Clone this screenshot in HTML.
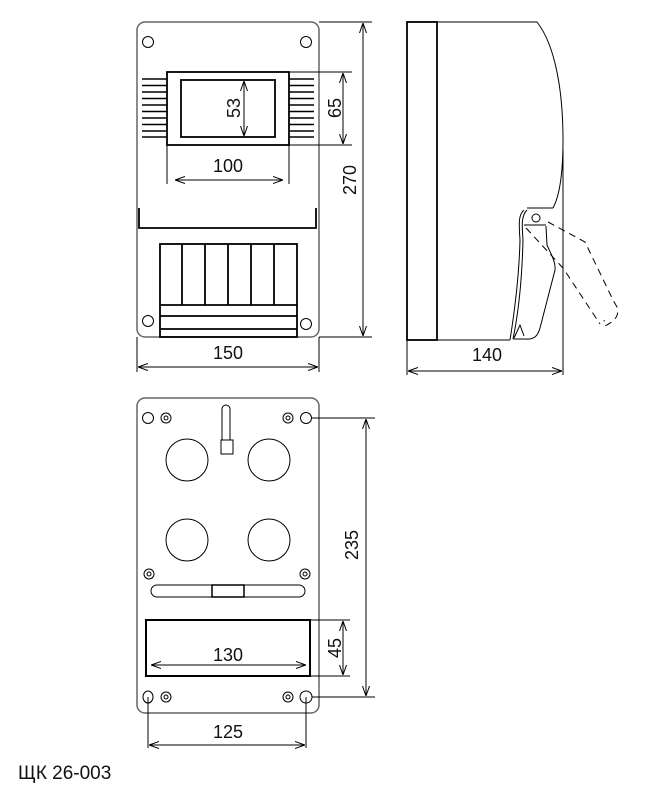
<!DOCTYPE html>
<html><head><meta charset="utf-8"><style>
html,body{margin:0;padding:0;background:#fff;}
svg{display:block;}
text{font-family:"Liberation Sans","DejaVu Sans",sans-serif;font-size:18px;fill:#111;}
</style></head><body>
<svg width="666" height="787" viewBox="0 0 666 787" xmlns="http://www.w3.org/2000/svg">
<defs>
<marker id="a" markerWidth="10" markerHeight="8" refX="10" refY="4" orient="auto-start-reverse" markerUnits="userSpaceOnUse">
<path d="M0,0.5 L10,4 L0,7.5" fill="none" stroke="#000" stroke-width="1"/>
</marker>
</defs>
<g fill="none" stroke="#000" stroke-width="1">
<!-- FRONT VIEW -->
<rect x="137" y="22" width="182" height="315" rx="8" stroke="#666" stroke-width="1.5"/>
<circle cx="148" cy="42" r="5.5"/><circle cx="306" cy="42" r="5.5"/>
<circle cx="148" cy="321" r="5.5"/><circle cx="306" cy="324" r="5.5"/>
<rect x="167" y="72" width="122" height="73" stroke-width="1.8"/>
<rect x="181" y="80" width="94" height="57" stroke-width="1.8"/>
<g stroke-width="1.6">
<path d="M142,79H167M142,85.5H167M142,92H167M142,98.5H167M142,105H167M142,111.5H167M142,118H167M142,124.5H167M142,131H167M142,137H167"/>
<path d="M289,79H314M289,85.5H314M289,92H314M289,98.5H314M289,105H314M289,111.5H314M289,118H314M289,124.5H314M289,131H314M289,137H314"/>
</g>
<line x1="244" y1="81" x2="244" y2="136" marker-start="url(#a)" marker-end="url(#a)"/>
<path d="M289,72H352M289,145H352"/>
<line x1="343" y1="73" x2="343" y2="144" marker-start="url(#a)" marker-end="url(#a)"/>
<path d="M167,145V184M289,145V184"/>
<line x1="175" y1="180" x2="283" y2="180" marker-start="url(#a)" marker-end="url(#a)"/>
<path d="M139,208V228H316V208" stroke-width="1.8"/>
<rect x="160" y="244" width="137" height="93" stroke-width="1.8"/>
<path d="M182,244V305M205,244V305M228,244V305M251,244V305M274,244V305M160,305H297M160,316H297M160,329H297" stroke-width="1.8"/>
<path d="M319,22H372M319,337H372"/>
<line x1="363" y1="23" x2="363" y2="336" marker-start="url(#a)" marker-end="url(#a)"/>
<path d="M137,337V372M319,337V372"/>
<line x1="138" y1="367" x2="318" y2="367" marker-start="url(#a)" marker-end="url(#a)"/>

<!-- SIDE VIEW -->
<rect x="407" y="22" width="30" height="318" stroke-width="1.8"/>
<path d="M437,22H537C555,45 563,90 563,140C563,170 560,195 553,208"/>
<path d="M437,340H510"/>
<path d="M527,208H553"/>
<path d="M524,210C518,215 519,225 520,240C519,280 514,315 510,340"/>
<path d="M527,210C521,216 522,226 523,240C522,280 518,315 513,339"/>
<path d="M513,339H525C535,340 538,335 540,328L555,270C556,262 550,252 547,245L546,226"/>
<path d="M524,225H546"/>
<path d="M514,338L520,325L524,336"/>
<circle cx="536" cy="218" r="4"/>
<g stroke-dasharray="7,5">
<path d="M548,222L585,242L613,300L617,307C620,318 612,322 605,326L604,320"/>
<path d="M526,228L563,268L600,324"/>
</g>
<path d="M407,340V375M563,150V375"/>
<line x1="408" y1="371" x2="562" y2="371" marker-start="url(#a)" marker-end="url(#a)"/>

<!-- BOTTOM VIEW -->
<rect x="137" y="398" width="182" height="315" rx="8" stroke="#666" stroke-width="1.5"/>
<circle cx="148" cy="418" r="5.5"/><circle cx="306" cy="418" r="5.5"/>
<circle cx="166" cy="418" r="5"/><circle cx="166" cy="418" r="2"/>
<circle cx="288" cy="418" r="5"/><circle cx="288" cy="418" r="2"/>
<circle cx="149" cy="574" r="5"/><circle cx="149" cy="574" r="2"/>
<circle cx="305" cy="574" r="5"/><circle cx="305" cy="574" r="2"/>
<ellipse cx="148" cy="697" rx="5" ry="6"/>
<circle cx="166" cy="697" r="5"/><circle cx="166" cy="697" r="2"/>
<circle cx="288" cy="697" r="5"/><circle cx="288" cy="697" r="2"/>
<circle cx="306" cy="697" r="6"/>
<path d="M222,440V409A4,4 0 0 1 230,409V440"/>
<rect x="221" y="440" width="12" height="14"/>
<circle cx="187" cy="460" r="21"/><circle cx="269" cy="460" r="21"/>
<circle cx="187" cy="540" r="21"/><circle cx="269" cy="540" r="21"/>
<rect x="151" y="585" width="154" height="12" rx="6"/>
<rect x="212" y="585" width="32" height="12" stroke-width="1.5"/>
<rect x="146" y="620" width="164" height="56" stroke-width="2"/>
<line x1="151" y1="665" x2="306" y2="665" marker-start="url(#a)" marker-end="url(#a)"/>
<path d="M310,620H350M310,676H350"/>
<line x1="343" y1="621" x2="343" y2="675" marker-start="url(#a)" marker-end="url(#a)"/>
<path d="M312,418H375M312,697H375"/>
<line x1="366" y1="419" x2="366" y2="696" marker-start="url(#a)" marker-end="url(#a)"/>
<path d="M148,697V748M306,697V748"/>
<line x1="149" y1="745" x2="305" y2="745" marker-start="url(#a)" marker-end="url(#a)"/>
</g>
<g>
<text x="228" y="172" text-anchor="middle">100</text>
<text transform="translate(240,108) rotate(-90)" text-anchor="middle">53</text>
<text transform="translate(341,108) rotate(-90)" text-anchor="middle">65</text>
<text transform="translate(356,180) rotate(-90)" text-anchor="middle">270</text>
<text x="228" y="359" text-anchor="middle">150</text>
<text x="487" y="361" text-anchor="middle">140</text>
<text x="228" y="661" text-anchor="middle">130</text>
<text transform="translate(341,648) rotate(-90)" text-anchor="middle">45</text>
<text transform="translate(358,545) rotate(-90)" text-anchor="middle">235</text>
<text x="228" y="738" text-anchor="middle">125</text>
<text x="18" y="779" style="font-size:19px">ЩК 26-003</text>
</g>
</svg>
</body></html>
